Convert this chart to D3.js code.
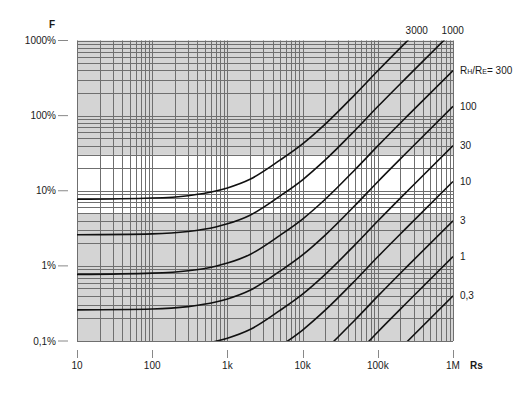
<!DOCTYPE html>
<html>
<head>
  <meta charset="utf-8">
  <script src="https://d3js.org/d3.v7.min.js"></script>
  <style>
    body { margin: 0; background: #fff; }
    text { font-family: "Liberation Sans", Arial, sans-serif; font-size: 10px; fill: #1a1a1a; }
  </style>
</head>
<body>
<script>
  var w = 521;
  var h = 394;

  // Rs sample points (ohm) shared by every curve
  var rsValues = [10, 100, 300, 700, 1000, 2000, 5000, 10000, 20000, 50000, 100000, 250000, 1000000];

  // F in % for each Rh/Re ratio
  var ratioLabels = ["3000", "1000", "300", "100", "30", "10", "3", "1", "0,3"];
  var f3000 = [7.7, 8.0, 8.6, 9.9, 10.9, 14.2, 25.5, 42, 77, 192, 395, 1000, 3980];
  var f1000 = [2.6, 2.67, 2.87, 3.3, 3.63, 4.73, 8.5, 14, 25.7, 64, 132, 333, 1327];
  var f300 = [0.77, 0.80, 0.86, 0.99, 1.09, 1.42, 2.55, 4.2, 7.7, 19.2, 39.5, 100, 398];
  var f100 = [0.26, 0.267, 0.287, 0.33, 0.363, 0.473, 0.85, 1.4, 2.57, 6.4, 13.2, 33.3, 133];
  var f30 = [0.077, 0.080, 0.086, 0.099, 0.109, 0.142, 0.255, 0.42, 0.77, 1.92, 3.95, 10, 39.8];
  var f10 = [0.0257, 0.0267, 0.0287, 0.033, 0.0363, 0.0473, 0.085, 0.14, 0.257, 0.64, 1.32, 3.33, 13.3];
  var f3 = [0.0077, 0.008, 0.0086, 0.0099, 0.0109, 0.0142, 0.0255, 0.042, 0.077, 0.192, 0.395, 1.0, 3.98];
  var f1 = [0.00257, 0.00267, 0.00287, 0.0033, 0.00363, 0.00473, 0.0085, 0.014, 0.0257, 0.064, 0.132, 0.333, 1.33];
  var f03 = [0.00077, 0.0008, 0.00086, 0.00099, 0.00109, 0.00142, 0.00255, 0.0042, 0.0077, 0.0192, 0.0395, 0.1, 0.398];
  var curves = [f3000, f1000, f300, f100, f30, f10, f3, f1, f03];

  var xTicks = [10, 100, 1000, 10000, 100000, 1000000];
  var xTickLabels = ["10", "100", "1k", "10k", "100k", "1M"];
  var yTicks = [1000, 100, 10, 1, 0.1];
  var yTickLabels = ["1000%", "100%", "10%", "1%", "0,1%"];

  // white band between these F values, grey elsewhere
  var bandLow = 5;
  var bandHigh = 30;

  var svg = d3.select("body")
    .append("svg")
    .attr("width", w)
    .attr("height", h);

  var xScale = d3.scaleLog()
    .domain([10, 1000000])
    .range([77, 453]);

  var yScale = d3.scaleLog()
    .domain([0.1, 1000])
    .range([341, 40.5]);

  var x0 = xScale.range()[0], x1 = xScale.range()[1];
  var y0 = yScale.range()[1], y1 = yScale.range()[0];

  svg.append("defs").append("clipPath")
    .attr("id", "plot")
    .append("rect")
    .attr("x", x0).attr("y", y0)
    .attr("width", x1 - x0).attr("height", y1 - y0);

  // background
  svg.append("rect")
    .attr("x", x0).attr("y", y0)
    .attr("width", x1 - x0).attr("height", y1 - y0)
    .attr("fill", "#d4d4d4");
  svg.append("rect")
    .attr("x", x0).attr("y", yScale(bandHigh))
    .attr("width", x1 - x0).attr("height", yScale(bandLow) - yScale(bandHigh))
    .attr("fill", "#ffffff");

  // log grid
  function logGrid(lo, hi) {
    var out = [];
    for (var d = lo; d < hi * 1.0001; d *= 10) {
      for (var k = 1; k <= 9; k++) {
        var v = d * k;
        if (v <= hi * 1.0001) out.push(v);
      }
    }
    return out;
  }

  svg.append("g").selectAll("line")
    .data(logGrid(10, 1000000))
    .enter()
    .append("line")
    .attr("x1", function(d) { return Math.round(xScale(d)) + 0.5; })
    .attr("x2", function(d) { return Math.round(xScale(d)) + 0.5; })
    .attr("y1", y0).attr("y2", y1)
    .attr("stroke", "#6f6f6f")
    .attr("stroke-width", 1);

  svg.append("g").selectAll("line")
    .data(logGrid(0.1, 1000))
    .enter()
    .append("line")
    .attr("y1", function(d) { return Math.round(yScale(d)) + 0.5; })
    .attr("y2", function(d) { return Math.round(yScale(d)) + 0.5; })
    .attr("x1", x0).attr("x2", x1)
    .attr("stroke", "#6f6f6f")
    .attr("stroke-width", 1);

  // curves
  var line = d3.line()
    .x(function(d) { return xScale(d[0]); })
    .y(function(d) { return yScale(d[1]); })
    .curve(d3.curveMonotoneX);

  svg.append("g")
    .attr("clip-path", "url(#plot)")
    .selectAll("path")
    .data(curves)
    .enter()
    .append("path")
    .attr("d", function(vals) {
      return line(vals.map(function(v, i) { return [rsValues[i], v]; }));
    })
    .attr("fill", "none")
    .attr("stroke", "#111")
    .attr("stroke-width", 1.6);

  // y axis ticks + labels
  var yAxis = svg.append("g");
  yAxis.selectAll("line")
    .data(yTicks)
    .enter()
    .append("line")
    .attr("x1", 58).attr("x2", 68)
    .attr("y1", function(d) { return yScale(d); })
    .attr("y2", function(d) { return yScale(d); })
    .attr("stroke", "#888");
  yAxis.selectAll("text")
    .data(yTicks)
    .enter()
    .append("text")
    .attr("x", 56)
    .attr("y", function(d) { return yScale(d); })
    .attr("dy", "0.35em")
    .attr("text-anchor", "end")
    .text(function(d, i) { return yTickLabels[i]; });

  // x axis ticks + labels
  var xAxis = svg.append("g");
  xAxis.selectAll("line")
    .data(xTicks)
    .enter()
    .append("line")
    .attr("x1", function(d) { return Math.round(xScale(d)) + 0.5; })
    .attr("x2", function(d) { return Math.round(xScale(d)) + 0.5; })
    .attr("y1", 350).attr("y2", 358)
    .attr("stroke", "#888");
  xAxis.selectAll("text")
    .data(xTicks)
    .enter()
    .append("text")
    .attr("x", function(d) { return xScale(d); })
    .attr("y", 369)
    .attr("text-anchor", "middle")
    .text(function(d, i) { return xTickLabels[i]; });

  svg.append("text")
    .attr("x", 470).attr("y", 369)
    .style("font-weight", "bold")
    .text("Rs");

  svg.append("text")
    .attr("x", 52).attr("y", 28)
    .attr("text-anchor", "middle")
    .style("font-weight", "bold")
    .text("F");

  // curve labels: at the right edge, or above the top edge where the curve leaves
  var topF = yScale.domain()[1];
  curves.forEach(function(vals, ci) {
    var last = vals[vals.length - 1];
    var label = ratioLabels[ci];
    if (last > topF) {
      var i = 0;
      while (vals[i + 1] < topF) i++;
      var t = Math.log(topF / vals[i]) / Math.log(vals[i + 1] / vals[i]);
      var rs = Math.exp(Math.log(rsValues[i]) + t * Math.log(rsValues[i + 1] / rsValues[i]));
      svg.append("text")
        .attr("x", xScale(rs) + 9)
        .attr("y", 34)
        .attr("text-anchor", "middle")
        .text(label);
    } else {
      var txt = svg.append("text")
        .attr("x", 460)
        .attr("y", yScale(last))
        .attr("dy", "0.35em");
      if (label === "300") {
        txt.append("tspan").text("R");
        txt.append("tspan").style("font-size", "7px").text("H");
        txt.append("tspan").text("/R");
        txt.append("tspan").style("font-size", "7px").text("E");
        txt.append("tspan").text("= " + label);
      } else {
        txt.text(label);
      }
    }
  });
</script>
</body>
</html>
